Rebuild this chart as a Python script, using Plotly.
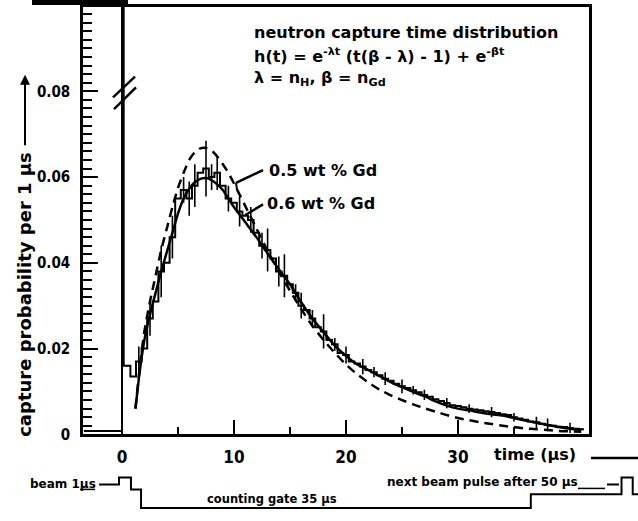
import numpy as np
import plotly.graph_objects as go

# ---------------- data ----------------
# fitted capture-time distributions (time in µs, capture probability per 1 µs)
fit_t = [1.2, 1.6, 2.0, 2.5, 3.0, 3.5, 4.0, 4.5, 5.0, 5.5, 6.0, 6.5, 7.0, 7.5, 8.0, 8.5, 9.0, 9.5,
         10, 11, 12, 13, 14, 15, 16, 17, 18, 19, 20, 21, 22, 23, 24, 25, 26, 27, 28, 29,
         30, 31, 32, 33, 34, 35, 36, 37, 38, 39, 40, 41]
fit_gd06 = [0.006, 0.015, 0.022, 0.028, 0.033, 0.038, 0.0425, 0.047, 0.0515, 0.055, 0.0573, 0.0588,
            0.0596, 0.0598, 0.0593, 0.0583, 0.057, 0.055,
            0.053, 0.0495, 0.046, 0.0422, 0.0385, 0.035, 0.0308, 0.027, 0.0238, 0.0207,
            0.0183, 0.0163, 0.015, 0.0136, 0.0122, 0.011, 0.0099, 0.0089, 0.0077, 0.0067,
            0.006, 0.0056, 0.0051, 0.0047, 0.0044, 0.0038, 0.0032, 0.0027, 0.0022, 0.0017,
            0.0013, 0.001]
fit_gd05 = [0.006, 0.016, 0.024, 0.031, 0.037, 0.043, 0.048, 0.053, 0.0575, 0.061, 0.064, 0.0658,
            0.0667, 0.0668, 0.0662, 0.0648, 0.063, 0.061,
            0.0585, 0.0533, 0.048, 0.0428, 0.038, 0.0335, 0.0292, 0.0253, 0.022, 0.019,
            0.0163, 0.014, 0.0121, 0.0104, 0.0091, 0.008, 0.007, 0.0061, 0.0053, 0.0045,
            0.0038, 0.0033, 0.0028, 0.0024, 0.002, 0.0017, 0.0014, 0.0012, 0.001, 0.0008,
            0.0007, 0.0006]

# measured histogram: 0.5 µs bins starting at 0.75 µs
hist_start = 0.75
hist_bin = 0.5
hist_vals = [0.0135, 0.017, 0.020, 0.027, 0.031, 0.038, 0.040, 0.046, 0.055, 0.057,
             0.055, 0.058, 0.061, 0.062, 0.060, 0.061, 0.058, 0.055, 0.054, 0.052,
             0.051, 0.050, 0.047, 0.044, 0.043, 0.041, 0.038, 0.037, 0.035, 0.033,
             0.030, 0.029, 0.027, 0.025, 0.024, 0.022, 0.021, 0.019, 0.0185, 0.017,
             0.0165, 0.0158, 0.015, 0.0145, 0.0138, 0.013, 0.0125, 0.0118, 0.0112, 0.0108,
             0.0103, 0.0098, 0.0092, 0.0088, 0.0082, 0.0078, 0.0073, 0.0068, 0.0066, 0.0063,
             0.0060, 0.0058, 0.0056, 0.0054, 0.0052, 0.0050, 0.0047, 0.0045, 0.0040, 0.0037,
             0.0034, 0.0030, 0.0028, 0.0025, 0.0022, 0.0020, 0.0018, 0.0017, 0.0015, 0.0013,
             0.0012]
hist_err = [0, 0.0035, 0, 0.004, 0, 0.006, 0, 0.005, 0, 0.003,
            0.004, 0.005, 0, 0.0065, 0.003, 0.004, 0, 0.003, 0, 0.0035,
            0, 0.003, 0, 0.003, 0.005, 0, 0.0035, 0.005, 0, 0.002,
            0.003, 0, 0.002, 0, 0.004, 0, 0.0015, 0, 0.002, 0,
            0, 0.0018, 0, 0.0012, 0, 0.0015, 0, 0, 0.0016, 0,
            0.001, 0, 0.0012, 0, 0, 0, 0.0012, 0, 0, 0,
            0.001, 0, 0, 0, 0.0012, 0, 0, 0, 0.001, 0,
            0, 0, 0.0013, 0, 0.0015, 0, 0, 0, 0.0012, 0,
            0]
# before the beam pulse, the beam pulse itself (off scale) and first bin after it
pre_t, pulse_t, pulse_end_t = -3.4, 0.0, 0.15
pre_level, pulse_level, first_bin_level = 0.0008, 0.5, 0.016

# timing diagram: beam pulse, counting gate (35 µs), next beam pulse
timing_t = [-2.05, -0.27, -0.27, 0.8, 0.8, 1.7, 1.7, 36.5, 36.5, 44.6, 44.6, 45.6, 45.6, 46.3]
timing_level = [28, 28, 35, 35, 23, 23, 4, 4, 18, 18, 35, 35, 18, 18]

x_ticks = [0, 10, 20, 30]
x_ticklabels = ["0", "10", "20", "30"]
x_minor = [5, 15, 25, 35]
y_ticks = [0, 0.02, 0.04, 0.06, 0.08]
y_ticklabels = ["0", "0.02", "0.04", "0.06", "0.08"]

# ---------------- layout constants ----------------
W, H = 638, 521
PX_US = 11.2                 # pixels per µs
X0_PX, X1_PX, T0_PX = 83, 589, 122
Y0_PX, Y1_PX = 442, 7
YMAX = 0.0997
TXT = "DejaVu Sans"
NUM = "DejaVu Sans Condensed"


def px(x, y):
    return x / W, 1 - y / H


# histogram step arrays
edges = [pre_t, pulse_t, pulse_end_t, hist_start] + \
        [hist_start + hist_bin * (i + 1) for i in range(len(hist_vals))]
levels = [pre_level, pulse_level, first_bin_level] + hist_vals
step_y = levels + [levels[-1]]
centers = [hist_start + hist_bin * (i + 0.5) for i in range(len(hist_vals))]

fig = go.Figure()
fig.add_trace(go.Scatter(x=edges, y=step_y, mode="lines",
                         line=dict(color="black", width=2, shape="hv"), showlegend=False))
fig.add_trace(go.Scatter(x=centers, y=hist_vals, mode="markers",
                         marker=dict(size=2, color="rgba(0,0,0,0)"),
                         error_y=dict(type="data", array=hist_err, visible=True,
                                      color="black", thickness=1.6, width=0),
                         showlegend=False))
fig.add_trace(go.Scatter(x=fit_t, y=fit_gd06, mode="lines", name="0.6 wt % Gd",
                         line=dict(color="black", width=2.5, shape="spline", smoothing=0.6),
                         showlegend=False))
fig.add_trace(go.Scatter(x=fit_t, y=fit_gd05, mode="lines", name="0.5 wt % Gd",
                         line=dict(color="black", width=2.5, dash="9px,6px",
                                   shape="spline", smoothing=0.6),
                         showlegend=False))
fig.add_trace(go.Scatter(x=timing_t, y=timing_level, xaxis="x2", yaxis="y2", mode="lines",
                         line=dict(color="black", width=2), showlegend=False))

xr = [(X0_PX - T0_PX) / PX_US, (X1_PX - T0_PX) / PX_US]
fig.update_layout(
    width=W, height=H,
    margin=dict(l=0, r=0, t=0, b=0),
    paper_bgcolor="white", plot_bgcolor="white",
    xaxis=dict(domain=[X0_PX / W, X1_PX / W], range=xr, showgrid=False, zeroline=False,
               showline=True, linecolor="black", linewidth=2.5, mirror=True,
               ticks="inside", ticklen=15, tickwidth=2, tickcolor="black",
               tickvals=x_ticks, ticktext=x_ticklabels, ticklabelstandoff=5,
               tickfont=dict(family=NUM, size=17, color="black", weight="bold"),
               minor=dict(tickvals=x_minor, ticks="inside", ticklen=8, tickwidth=2,
                          tickcolor="black")),
    yaxis=dict(domain=[1 - Y0_PX / H, 1 - Y1_PX / H], range=[0, YMAX], showgrid=False,
               zeroline=False, showline=True, linecolor="black", linewidth=2.5, mirror=True,
               ticks="inside", ticklen=15, tickwidth=2, tickcolor="black",
               tickvals=y_ticks, ticktext=y_ticklabels, ticklabelstandoff=7,
               tickfont=dict(family=NUM, size=15, color="black", weight="bold"),
               minor=dict(tick0=0, dtick=0.002, ticks="inside", ticklen=9, tickwidth=2,
                          tickcolor="black")),
    xaxis2=dict(domain=[0, 1], range=[-T0_PX / PX_US, (W - T0_PX) / PX_US], visible=False),
    yaxis2=dict(domain=[0, 73 / H], range=[0, 73], visible=False),
)

ann = []


def text(x, y, s, size=16, xanchor="left", angle=0, family=TXT):
    px_x, px_y = px(x, y)
    ann.append(dict(x=px_x, y=px_y, xref="paper", yref="paper", text=s, showarrow=False,
                    xanchor=xanchor, yanchor="middle", textangle=angle,
                    font=dict(family=family, size=size, color="black", weight="bold")))


text(252, 33, "neutron capture time distribution")
text(252, 56, "h(t) = e<sup>-λt</sup> (t(β - λ) - 1) + e<sup>-βt</sup>")
text(252, 80, "λ = n<sub>H</sub>, β = n<sub>Gd</sub>")
text(267, 173, "0.5 wt % Gd")
text(265, 207, "0.6 wt % Gd")
text(25, 300, "capture probability per 1 µs", size=18, xanchor="center", angle=-90)
text(492, 462, "time (µs)", size=16)
text(28, 492, "beam 1µs", size=12)
text(205, 508, "counting gate 35 µs", size=11.5)
text(385, 490, "next beam pulse after 50 µs", size=12)

# arrow of the y-axis title
hx, hy = px(25, 76)
ann.append(dict(x=hx, y=hy, xref="paper", yref="paper", text="", showarrow=True,
                ax=0, ay=72, arrowhead=2, arrowsize=1, arrowwidth=2, arrowcolor="black"))
fig.update_layout(annotations=ann)

shapes = []


def pline(x0, y0, x1, y1, w=2):
    a, b = px(x0, y0)
    c, d = px(x1, y1)
    shapes.append(dict(type="line", xref="paper", yref="paper", x0=a, y0=b, x1=c, y1=d,
                       line=dict(color="black", width=w)))


# leader lines from labels to curves
pline(263, 173, 236, 186, 2.5)
pline(236, 186, 237, 193, 2)
pline(263, 208, 245, 219, 2.5)
# "//" break marks on the beam-pulse line
pline(113, 99, 135, 78, 2.5)
pline(114, 111, 136, 89, 2.5)
# time axis arrow line
pline(591, 466, 638, 466, 2.5)
# arrow into beam pulse and underlines
pline(80, 498, 95, 498, 1.5)
pline(578, 497, 605, 497, 1.5)
pline(607, 493, 619, 493, 2)
# dark scan bar at top-left
a, b = px(32, 5)
c, d = px(128, 0)
shapes.append(dict(type="rect", xref="paper", yref="paper", x0=a, y0=b, x1=c, y1=d,
                   fillcolor="black", line=dict(width=0)))
fig.update_layout(shapes=shapes)

fig.write_html("out.html", config={"displayModeBar": False},
               post_script="document.body.style.margin='0px';")
